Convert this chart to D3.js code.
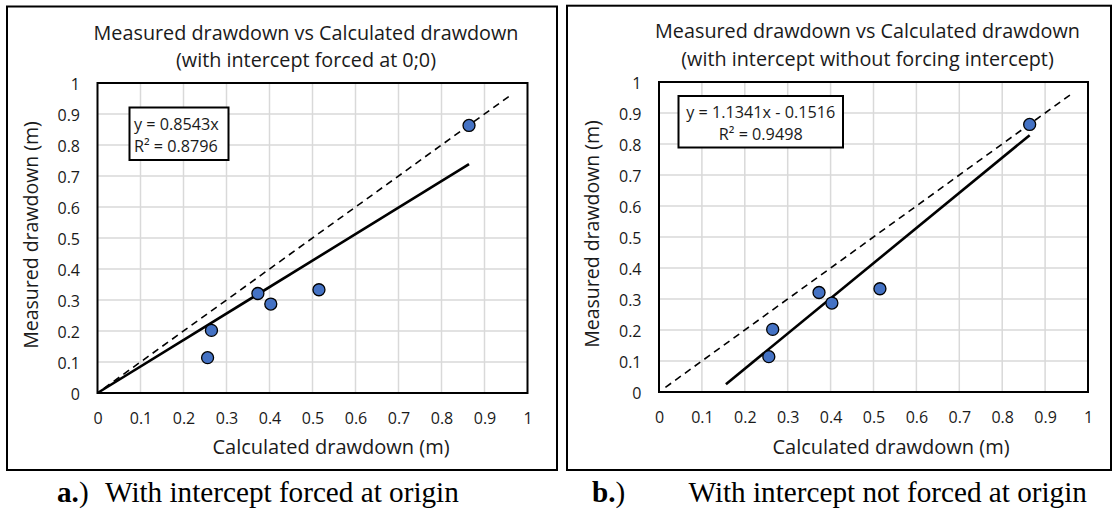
<!DOCTYPE html>
<html>
<head>
<meta charset="utf-8">
<script src="https://cdn.jsdelivr.net/npm/d3@7"></script>
<style>
  html, body { margin: 0; padding: 0; background: #fff; }
  svg { display: block; }
</style>
</head>
<body>
<svg id="chart" width="1115" height="511"></svg>
<script>
// Drawdown observations (same wells in both panels)
const calculated = [0.256, 0.265, 0.373, 0.403, 0.515, 0.864];
const measured   = [0.114, 0.202, 0.321, 0.287, 0.333, 0.863];

// Axis ticks
const tickValues = [0, 0.1, 0.2, 0.3, 0.4, 0.5, 0.6, 0.7, 0.8, 0.9, 1];
const tickLabels = ["0", "0.1", "0.2", "0.3", "0.4", "0.5", "0.6", "0.7", "0.8", "0.9", "1"];

// Linear fits: panel a forced through origin, panel b free intercept
const slopes     = [0.8543, 1.1341];
const intercepts = [0, -0.1516];
const rSquared   = [0.8796, 0.9498];
const fitFrom    = [0, 0.156];
const fitTo      = [0.864, 0.864];

// 1:1 reference line extent
const unityFrom = [0.015, 0.015];
const unityTo   = [0.965, 0.965];

const titleLine1 = ["Measured drawdown vs Calculated drawdown", "Measured drawdown vs Calculated drawdown"];
const titleLine2 = ["(with intercept forced at 0;0)", "(with intercept without forcing intercept)"];
const xTitle = "Calculated drawdown (m)";
const yTitle = "Measured drawdown (m)";
const captionTags  = ["a.", "b."];
const captionTexts = ["With intercept forced at origin", "With intercept not forced at origin"];

const svg = d3.select("#chart");
const FONT = "'Open Sans', 'Noto Sans', sans-serif";
const INK = "#1a1a1a";

const layouts = [
  { frame: { x: 7, y: 6.5, w: 550, h: 463.5 },
    plot: { l: 97.5, r: 527.5, t: 83, b: 393 },
    titleX: 306, titleY: [32, 59], xTitleX: 331, yTitleX: 30,
    eq: { x: 129.5, y: 107.5, w: 99, h: 52.5, anchor: "start" },
    capTagX: 57, capTextX: 105 },
  { frame: { x: 567, y: 5.7, w: 544, h: 464.3 },
    plot: { l: 659, r: 1088, t: 82, b: 392 },
    titleX: 867.5, titleY: [30, 58.3], xTitleX: 891, yTitleX: 591,
    eq: { x: 678.5, y: 96, w: 164.5, h: 51.5, anchor: "middle" },
    capTagX: 592, capTextX: 688.5 }
];

const eqText = i => {
  const s = "y = " + slopes[i].toFixed(4) + "x";
  if (intercepts[i] === 0) return s;
  return s + (intercepts[i] < 0 ? " - " : " + ") + Math.abs(intercepts[i]).toFixed(4);
};

layouts.forEach((L, i) => {
  const g = svg.append("g");
  const x = d3.scaleLinear().domain([0, 1]).range([L.plot.l, L.plot.r]);
  const y = d3.scaleLinear().domain([0, 1]).range([L.plot.b, L.plot.t]);

  // outer frame
  g.append("rect")
    .attr("x", L.frame.x).attr("y", L.frame.y)
    .attr("width", L.frame.w).attr("height", L.frame.h)
    .attr("fill", "none").attr("stroke", "#000").attr("stroke-width", 2);

  // title
  [titleLine1[i], titleLine2[i]].forEach((t, k) => {
    g.append("text").attr("x", L.titleX).attr("y", L.titleY[k])
      .attr("text-anchor", "middle").attr("dominant-baseline", "central")
      .attr("font-family", FONT).attr("font-size", 19.8).attr("fill", INK)
      .text(t);
  });

  // gridlines
  const inner = tickValues.filter(v => v > 0 && v < 1);
  g.append("g").selectAll("line.v").data(inner).join("line")
    .attr("x1", d => x(d)).attr("x2", d => x(d))
    .attr("y1", L.plot.t).attr("y2", L.plot.b)
    .attr("stroke", "#d9d9d9").attr("stroke-width", 1.5);
  g.append("g").selectAll("line.h").data(inner).join("line")
    .attr("x1", L.plot.l).attr("x2", L.plot.r)
    .attr("y1", d => y(d)).attr("y2", d => y(d))
    .attr("stroke", "#d9d9d9").attr("stroke-width", 1.5);

  // axes (labels only; the plot border acts as axis line)
  const xAxis = d3.axisBottom(x).tickValues(tickValues)
    .tickFormat((d, j) => tickLabels[j]).tickSize(0).tickPadding(25);
  const yAxis = d3.axisLeft(y).tickValues(tickValues)
    .tickFormat((d, j) => tickLabels[j]).tickSize(0).tickPadding(17.5);
  const gx = g.append("g").attr("transform", `translate(0,${L.plot.b})`).call(xAxis);
  const gy = g.append("g").attr("transform", `translate(${L.plot.l},0)`).call(yAxis);
  [gx, gy].forEach(a => {
    a.select(".domain").remove();
    a.selectAll("text").attr("font-family", FONT).attr("font-size", 16).attr("fill", INK);
  });
  gx.selectAll("text").attr("dy", null).attr("dominant-baseline", "central");
  gy.selectAll("text").attr("dy", null).attr("dominant-baseline", "central");

  // plot border
  g.append("rect")
    .attr("x", L.plot.l).attr("y", L.plot.t)
    .attr("width", L.plot.r - L.plot.l).attr("height", L.plot.b - L.plot.t)
    .attr("fill", "none").attr("stroke", "#000").attr("stroke-width", 2);

  // 1:1 line
  g.append("line")
    .attr("x1", x(unityFrom[i])).attr("y1", y(unityFrom[i]))
    .attr("x2", x(unityTo[i])).attr("y2", y(unityTo[i]))
    .attr("stroke", "#000").attr("stroke-width", 1.6)
    .attr("stroke-dasharray", "7,5");

  // fitted line
  const fit = v => slopes[i] * v + intercepts[i];
  g.append("line")
    .attr("x1", x(fitFrom[i])).attr("y1", y(fit(fitFrom[i])))
    .attr("x2", x(fitTo[i])).attr("y2", y(fit(fitTo[i])))
    .attr("stroke", "#000").attr("stroke-width", 2.6);

  // observations
  g.append("g").selectAll("circle").data(calculated).join("circle")
    .attr("cx", d => x(d))
    .attr("cy", (d, j) => y(measured[j]))
    .attr("r", 6)
    .attr("fill", "#4472c4").attr("stroke", "#000").attr("stroke-width", 1.3);

  // equation box
  g.append("rect")
    .attr("x", L.eq.x).attr("y", L.eq.y).attr("width", L.eq.w).attr("height", L.eq.h)
    .attr("fill", "#fff").attr("stroke", "#000").attr("stroke-width", 2);
  const tx = L.eq.anchor === "start" ? L.eq.x + 4.5 : L.eq.x + L.eq.w / 2;
  g.append("text").attr("x", tx).attr("y", L.eq.y + L.eq.h * 0.31)
    .attr("text-anchor", L.eq.anchor).attr("dominant-baseline", "central")
    .attr("font-family", FONT).attr("font-size", 16.2).attr("fill", INK)
    .text(eqText(i));
  g.append("text").attr("x", tx).attr("y", L.eq.y + L.eq.h * 0.73)
    .attr("text-anchor", L.eq.anchor).attr("dominant-baseline", "central")
    .attr("font-family", FONT).attr("font-size", 16.2).attr("fill", INK)
    .text("R\u00b2 = " + rSquared[i].toFixed(4));

  // axis titles
  g.append("text").attr("x", L.xTitleX).attr("y", 446)
    .attr("text-anchor", "middle").attr("dominant-baseline", "central")
    .attr("font-family", FONT).attr("font-size", 20).attr("fill", INK)
    .text(xTitle);
  g.append("text")
    .attr("transform", `translate(${L.yTitleX},${(L.plot.t + L.plot.b) / 2 - 3}) rotate(-90)`)
    .attr("text-anchor", "middle").attr("dominant-baseline", "central")
    .attr("font-family", FONT).attr("font-size", 19.5).attr("fill", INK)
    .text(yTitle);

  // caption below the panel
  const cap = svg.append("text").attr("y", 502)
    .attr("font-family", "'Liberation Serif', 'Times New Roman', serif")
    .attr("font-size", 29.2).attr("fill", "#000");
  cap.append("tspan").attr("x", L.capTagX).attr("font-weight", "bold").text(captionTags[i]);
  cap.append("tspan").text(")");
  cap.append("tspan").attr("x", L.capTextX).text(captionTexts[i]);
});
</script>
</body>
</html>
